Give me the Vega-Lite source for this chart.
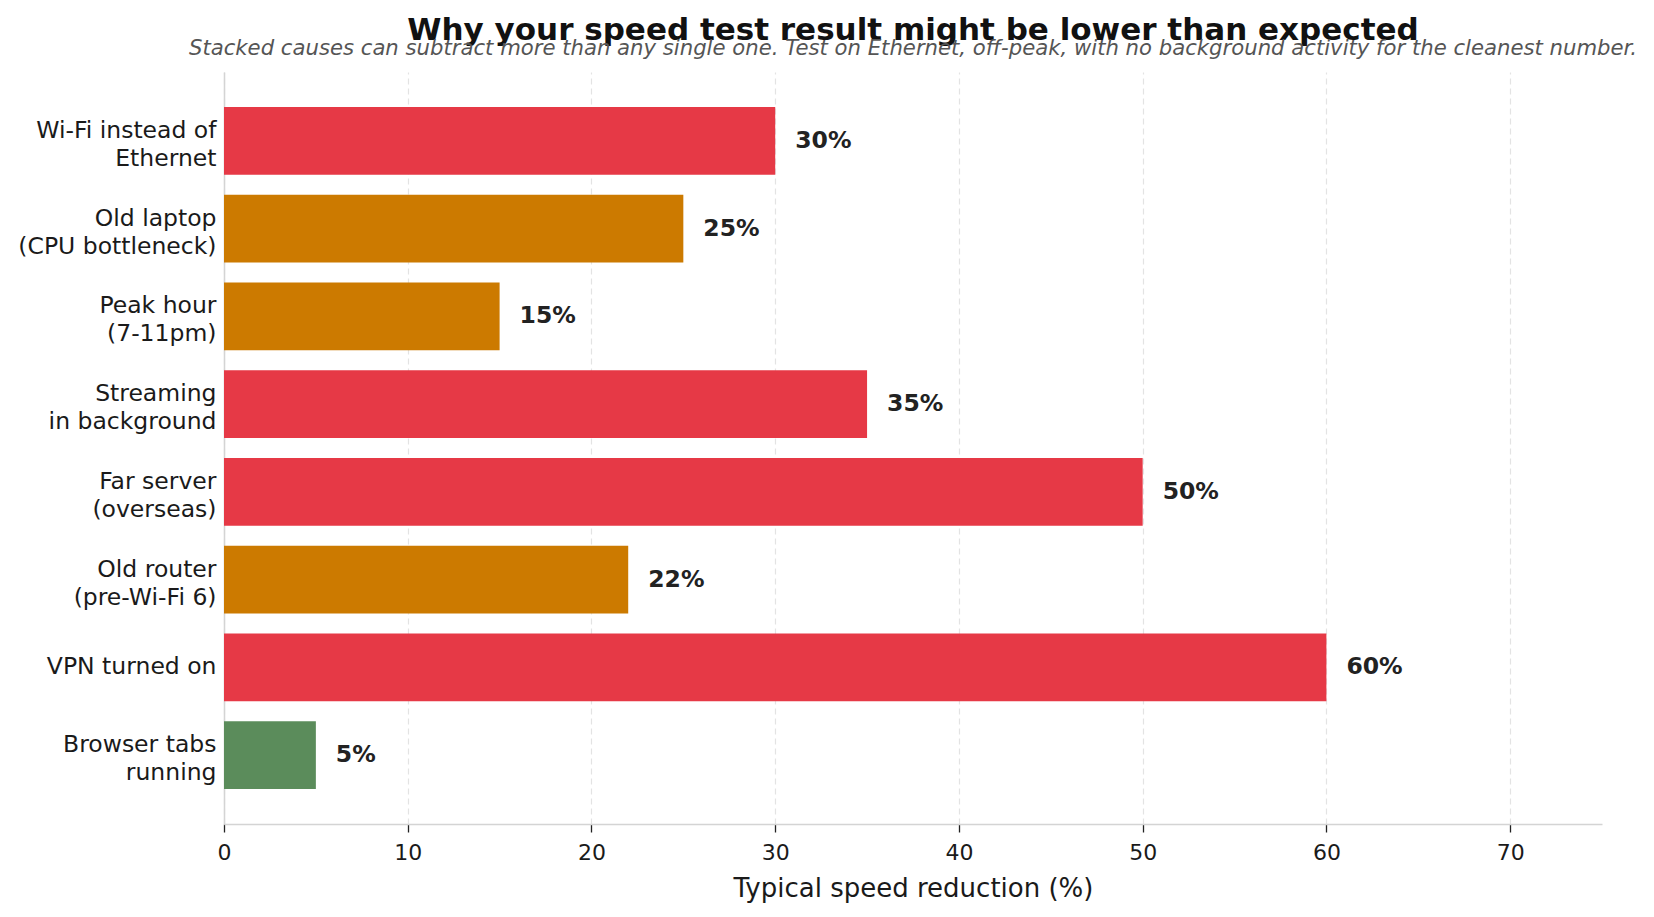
{
  "$schema": "https://vega.github.io/schema/vega-lite/v6.json",
  "width": 1378,
  "height": 752,
  "autosize": {"type": "none"},
  "padding": {"left": 224, "top": 72, "right": 52, "bottom": 93},
  "background": "white",
  "config": {
    "font": "DejaVu Sans",
    "view": {"stroke": null},
    "axis": {
      "labelFont": "DejaVu Sans",
      "titleFont": "DejaVu Sans",
      "labelColor": "#1a1a1a",
      "titleColor": "#1a1a1a"
    }
  },
  "title": {
    "text": "Why your speed test result might be lower than expected",
    "subtitle": "Stacked causes can subtract more than any single one. Test on Ethernet, off-peak, with no background activity for the cleanest number.",
    "anchor": "middle",
    "fontSize": 31,
    "fontWeight": "bold",
    "color": "#111111",
    "subtitleFont": "DejaVu Sans",
    "subtitleFontSize": 21.2,
    "subtitleFontStyle": "italic",
    "subtitleColor": "#555555",
    "subtitlePadding": -9,
    "offset": 12
  },
  "data": {
    "values": [
      {"cause": "Wi-Fi instead of|Ethernet", "reduction": 30, "label": "30%", "impact": "high"},
      {"cause": "Old laptop|(CPU bottleneck)", "reduction": 25, "label": "25%", "impact": "medium"},
      {"cause": "Peak hour|(7-11pm)", "reduction": 15, "label": "15%", "impact": "medium"},
      {"cause": "Streaming|in background", "reduction": 35, "label": "35%", "impact": "high"},
      {"cause": "Far server|(overseas)", "reduction": 50, "label": "50%", "impact": "high"},
      {"cause": "Old router|(pre-Wi-Fi 6)", "reduction": 22, "label": "22%", "impact": "medium"},
      {"cause": "VPN turned on", "reduction": 60, "label": "60%", "impact": "high"},
      {"cause": "Browser tabs|running", "reduction": 5, "label": "5%", "impact": "low"}
    ]
  },
  "encoding": {
    "y": {
      "field": "cause",
      "type": "nominal",
      "sort": null,
      "title": null,
      "scale": {"paddingInner": 0.23, "paddingOuter": 0.4},
      "axis": {
        "labelExpr": "split(datum.label, '|')",
        "labelFontSize": 23.5,
        "labelLineHeight": 28,
        "labelPadding": 8,
        "labelOffset": {"condition": {"test": "indexof(datum.value, '|') < 0", "value": 0}, "value": -10},
        "ticks": false,
        "domainColor": "#d4d4d4",
        "domainWidth": 1.5,
        "labelLimit": 400
      }
    },
    "x": {
      "field": "reduction",
      "type": "quantitative",
      "title": "Typical speed reduction (%)",
      "scale": {"domain": [0, 75], "nice": false},
      "axis": {
        "values": [0, 10, 20, 30, 40, 50, 60, 70],
        "labelFontSize": 22,
        "labelFlush": false,
        "titleFontSize": 26,
        "titleFontWeight": "normal",
        "titlePadding": 12,
        "labelPadding": 10,
        "tickColor": "#222222",
        "tickSize": 8,
        "tickWidth": 1.3,
        "domainColor": "#d4d4d4",
        "domainWidth": 1.5,
        "grid": true,
        "gridColor": "#e3e3e3",
        "gridDash": [6, 4],
        "gridWidth": 1.2
      }
    }
  },
  "layer": [
    {
      "mark": {"type": "bar"},
      "encoding": {
        "color": {
          "field": "impact",
          "type": "nominal",
          "scale": {"domain": ["high", "medium", "low"], "range": ["#e63946", "#cc7a00", "#5b8c5b"]},
          "legend": null
        }
      }
    },
    {
      "mark": {"type": "text", "align": "left", "baseline": "middle", "dx": 20, "fontSize": 23.5, "fontWeight": "bold", "color": "#222222"},
      "encoding": {
        "text": {"field": "label", "type": "nominal"}
      }
    }
  ]
}
